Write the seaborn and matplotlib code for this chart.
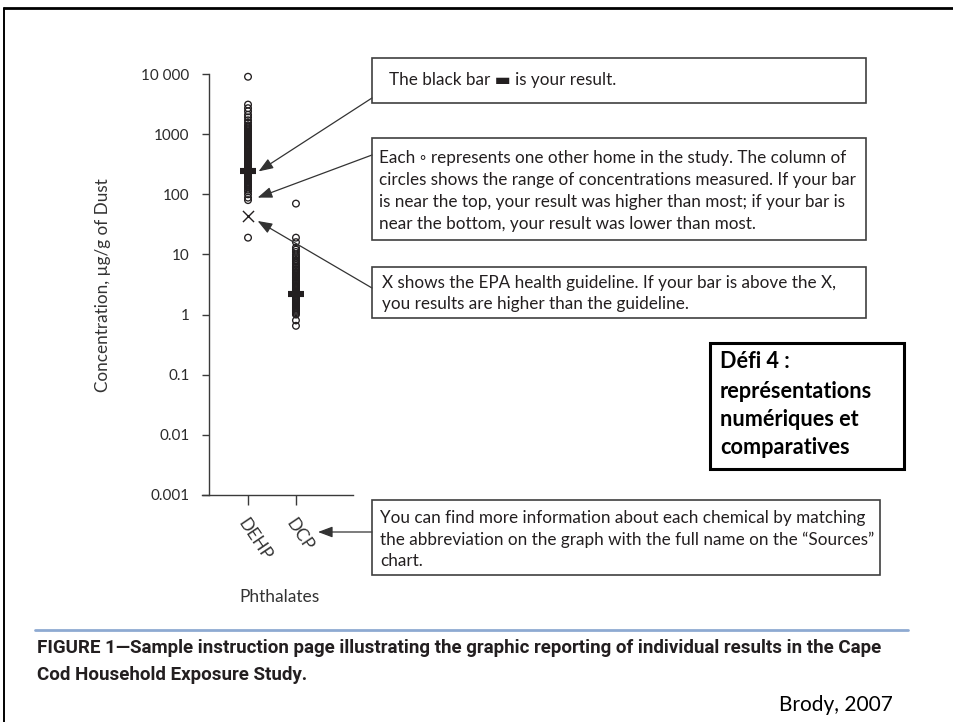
import matplotlib
matplotlib.use("Agg")
import matplotlib.pyplot as plt
import seaborn as sns
import pandas as pd
from matplotlib.patches import Rectangle
from matplotlib.lines import Line2D
from matplotlib.ticker import NullLocator

# ---- data -------------------------------------------------------------
phthalates = ["DEHP", "DCP"]

# concentration measured in each other home of the study (ug/g of dust)
dehp_homes = [9000, 3100, 2700, 2400, 2100, 1900, 1700, 1550,
              1400, 1350, 1300, 1250, 1200, 1150, 1100, 1060, 1020, 980,
              940, 900, 870, 840, 810, 780, 750, 720, 690, 660, 640, 620,
              600, 580, 560, 540, 520, 500, 480, 465, 450, 435, 420, 405,
              390, 375, 360, 350, 340, 330, 320, 310, 300, 290, 280, 270,
              260, 250, 240, 232, 224, 216, 208, 200, 193, 186, 180, 174,
              168, 162, 156, 150, 145, 140, 135, 130, 120, 112, 100, 88,
              80, 19]
dcp_homes = [70, 19, 16, 13, 12, 11, 10, 9.3, 8.7, 8.1, 7.6, 7.1, 6.7,
             6.3, 6.0, 5.7, 5.4, 5.1, 4.9, 4.7, 4.5, 4.3, 4.1, 3.9, 3.7,
             3.55, 3.4, 3.25, 3.1, 2.98, 2.86, 2.74, 2.63, 2.52, 2.42, 2.32,
             2.23, 2.14, 2.05, 1.97, 1.89, 1.81, 1.74, 1.67, 1.6, 1.54, 1.48,
             1.42, 1.36, 1.3, 1.25, 1.2, 1.15, 1.1, 1.05, 1.0, 0.8, 0.65]

your_result = [240, 2.2]            # black bar, one per chemical
epa_guideline = {"DEHP": 43}        # X marker

y_ticks = [0.001, 0.01, 0.1, 1, 10, 100, 1000, 10000]
y_tick_labels = ["0.001", "0.01", "0.1", "1", "10", "100", "1000", "10 000"]

# ---- style ------------------------------------------------------------
sns.set_style("ticks")
plt.rcParams["font.family"] = ["Lato", "DejaVu Sans"]
INK = "#231f20"
W, H = 954, 722


def fx(x):
    return x / W


def fy(y):
    return 1 - y / H


fig = plt.figure(figsize=(W / 100, H / 100), dpi=100)
fig.patch.set_facecolor("white")

ax = fig.add_axes([fx(202), fy(495), (353 - 202) / W, (495 - 74) / H])
ax.set_facecolor("none")

df = pd.DataFrame({
    "phthalate": ["DEHP"] * len(dehp_homes) + ["DCP"] * len(dcp_homes),
    "conc": dehp_homes + dcp_homes,
})

sns.stripplot(data=df, x="phthalate", y="conc", order=phthalates,
              jitter=False, size=4.8, linewidth=0.95, ax=ax, zorder=3)
for coll in ax.collections:
    coll.set_facecolor("none")
    coll.set_edgecolor(INK)
    coll.set_clip_on(False)

xpos = {name: i for i, name in enumerate(phthalates)}

# individual result bars
ax.scatter([xpos[p] for p in phthalates], your_result, marker="_",
           s=118, linewidths=4.4, color=INK, zorder=4, clip_on=False)
# EPA health guideline
ax.scatter([xpos[p] for p in epa_guideline], list(epa_guideline.values()),
           marker="x", s=64, linewidths=1.0, color=INK, zorder=4)

ax.set_yscale("log")
ax.set_ylim(0.001, 10000)
ax.set_xlim(-0.96, 2.19)
ax.yaxis.set_minor_locator(NullLocator())
ax.set_yticks(y_ticks)
ax.set_yticklabels(y_tick_labels)
ax.set_xticks(range(len(phthalates)))
ax.set_xticklabels(phthalates, rotation=-56, ha="left", va="top",
                   rotation_mode="anchor", fontsize=12.5, color="#333333")

for side in ("top", "right"):
    ax.spines[side].set_visible(False)
ax.spines["left"].set_position(("data", -0.81))
for side in ("left", "bottom"):
    ax.spines[side].set_color("#3a3a3a")
    ax.spines[side].set_linewidth(1.0)
ax.tick_params(axis="y", length=5, width=1.0, color="#3a3a3a", pad=9,
               labelsize=11, labelcolor="#2b2b2b")
ax.tick_params(axis="x", length=7, width=1.0, color="#3a3a3a", pad=8)

ax.set_ylabel("Concentration, \u00b5g/g of Dust", fontsize=12.3,
              color="#333333", va="center")
ax.yaxis.set_label_coords((103 - 202) / 151, (495 - 285) / 421)
ax.set_xlabel("Phthalates", fontsize=12.5, color="#333333", va="center")
ax.xaxis.set_label_coords((280 - 202) / 151, (495 - 597) / 421)

# ---- explanatory boxes -------------------------------------------------
def box(x0, y0, x1, y1, lw=1.2, ec="#3f3f3f"):
    fig.add_artist(Rectangle((fx(x0), fy(y1)), (x1 - x0) / W, (y1 - y0) / H,
                             transform=fig.transFigure, fill=False,
                             ec=ec, lw=lw))


def lines(x, ys, texts, **kw):
    for y, t in zip(ys, texts):
        fig.text(fx(x), fy(y), t, va="center", ha="left", **kw)


txt = dict(fontsize=12.3, color=INK, family=["Lato", "DejaVu Sans"])

box(372, 58, 866, 103)
lines(389, [80], ["The black bar \u25ac is your result."], **txt)

box(372, 138, 866, 240)
lines(379, [158, 180, 202, 224], [
    "Each \u25e6 represents one other home in the study. The column of",
    "circles shows the range of concentrations measured. If your bar",
    "is near the top, your result was higher than most; if your bar is",
    "near the bottom, your result was lower than most.",
], **txt)

box(372, 267, 866, 318)
lines(382, [283, 304], [
    "X shows the EPA health guideline. If your bar is above the X,",
    "you results are higher than the guideline.",
], **txt)

box(372, 500, 880, 575)
lines(380, [518, 540, 561], [
    "You can find more information about each chemical by matching",
    "the abbreviation on the graph with the full name on the \u201cSources\u201d",
    "chart.",
], **txt)

# arrows from the boxes to the marks they describe
arrow = dict(arrowstyle="-|>,head_length=0.8,head_width=0.3",
             mutation_scale=11, color="#333333", lw=0.9, shrinkA=0, shrinkB=0)
ax.annotate("", xy=(0.22, your_result[0]), xycoords="data",
            xytext=(fx(372), fy(98)), textcoords="figure fraction",
            arrowprops=arrow)
ax.annotate("", xy=(0.2, 88), xycoords="data",
            xytext=(fx(372), fy(155)), textcoords="figure fraction",
            arrowprops=arrow)
ax.annotate("", xy=(0.2, 36), xycoords="data",
            xytext=(fx(372), fy(288)), textcoords="figure fraction",
            arrowprops=arrow)
ax.annotate("", xy=(fx(318), fy(532)), xycoords="figure fraction",
            xytext=(fx(372), fy(532)), textcoords="figure fraction",
            arrowprops=arrow)

# ---- slide title box --------------------------------------------------
box(710, 343, 904, 469, lw=2.2, ec="black")
lines(720, [362, 391, 420, 448],
      ["D\u00e9fi 4 :", "repr\u00e9sentations", "num\u00e9riques et",
       "comparatives"],
      fontsize=15.6, fontweight="bold", color="black",
      family=["Lato", "DejaVu Sans"])

# ---- figure caption ---------------------------------------------------
fig.add_artist(Line2D([fx(35), fx(908)], [fy(630), fy(630)],
                      transform=fig.transFigure, color="#8eaad2", lw=2))
cap = dict(fontsize=13.5, fontweight="bold", color=INK,
           family=["Roboto", "DejaVu Sans"])
lines(37, [648, 675], [
    "FIGURE 1\u2014Sample instruction page illustrating the graphic reporting "
    "of individual results in the Cape",
    "Cod Household Exposure Study.",
], **cap)

fig.text(fx(893), fy(705), "Brody, 2007", ha="right", va="center",
         fontsize=15, color="black", family=["Lato", "DejaVu Sans"])

# slide frame
fig.add_artist(Line2D([fx(4), fx(954)], [fy(8), fy(8)],
                      transform=fig.transFigure, color="black", lw=2))
fig.add_artist(Line2D([fx(4.5), fx(4.5)], [fy(8), fy(722)],
                      transform=fig.transFigure, color="black", lw=1.4))

fig.savefig("out.png", dpi=100)
